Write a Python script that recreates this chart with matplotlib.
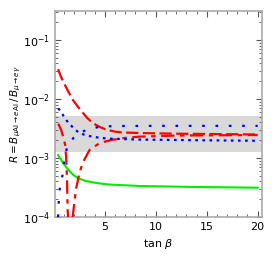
import matplotlib
matplotlib.use("Agg")
import matplotlib.pyplot as plt
from matplotlib.ticker import LogLocator, MultipleLocator, NullFormatter

# --- data ---
tanb_green = [0.4, 0.92, 1.41, 1.9, 2.42, 3.07, 4.05, 5.03, 5.7, 8.44, 14.3, 20.0]
r_green = [1.12e-3, 8.1e-4, 6.3e-4, 5.15e-4, 4.5e-4, 4.1e-4, 3.8e-4, 3.6e-4, 3.53e-4, 3.35e-4, 3.22e-4, 3.14e-4]

tanb_red_dash = [0.4, 0.7, 1.07, 1.46, 1.86, 2.35, 2.84, 3.3, 3.82, 4.5, 5.2, 6.0, 6.77, 8.44, 12.0, 20.0]
r_red_dash = [0.032, 0.0235, 0.0173, 0.0128, 9.6e-3, 7.4e-3, 5.8e-3, 4.7e-3, 3.9e-3, 3.35e-3, 3.0e-3, 2.8e-3, 2.7e-3, 2.65e-3, 2.58e-3, 2.5e-3]

tanb_red_dd = [0.42, 0.7, 0.9, 1.1, 1.2, 1.28, 1.34, 1.42, 1.55, 1.75, 1.85, 2.15, 2.5, 2.85, 3.5, 4.5, 5.7, 7.1, 8.4, 12.0, 20.0]
r_red_dd = [3.8e-3, 3.0e-3, 2.3e-3, 1.66e-3, 1.0e-3, 4.5e-4, 1.3e-4, 8e-5, 1e-6, 8e-5, 1.05e-4, 2.9e-4, 5.6e-4, 8.5e-4, 1.37e-3, 1.8e-3, 2.03e-3, 2.2e-3, 2.3e-3, 2.4e-3, 2.45e-3]

tanb_blue_low = [0.42, 0.77, 1.04, 1.44, 1.93, 2.42, 3.05, 3.73, 4.7, 5.4, 8.4, 14.0, 20.0]
r_blue_low = [6.95e-3, 5.8e-3, 4.8e-3, 3.9e-3, 3.2e-3, 2.7e-3, 2.45e-3, 2.3e-3, 2.18e-3, 2.13e-3, 2.05e-3, 2.0e-3, 1.96e-3]

tanb_blue_up = [0.4, 0.45, 0.51, 0.6, 0.85, 0.95, 1.27, 1.6, 1.93, 2.55, 3.1, 3.73, 4.7, 6.0, 10.0, 20.0]
r_blue_up = [1.0e-4, 1.6e-4, 2.3e-4, 3.5e-4, 5.2e-4, 7.6e-4, 1.5e-3, 1.9e-3, 2.2e-3, 2.65e-3, 2.95e-3, 3.2e-3, 3.4e-3, 3.48e-3, 3.5e-3, 3.5e-3]

band_low, band_high = 1.26e-3, 5.1e-3

fig = plt.figure(figsize=(2.74, 2.74), dpi=100)
ax = fig.add_axes([0.2007, 0.208, 0.7553, 0.752])

ax.axhspan(band_low, band_high, color="#d9d9d9", zorder=0, lw=0)

ax.plot(tanb_green, r_green, color="#00ee00", lw=1.5, zorder=3)
ax.plot(tanb_red_dash, r_red_dash, color="#ff0000", lw=1.6, dashes=(5.5, 2), zorder=3)
ax.plot(tanb_red_dd, r_red_dd, color="#ff0000", lw=1.6, dashes=(6, 2.5, 2, 2.5), zorder=3)
ax.plot(tanb_blue_low, r_blue_low, color="#0000ff", lw=1.6, dashes=(1.2, 2.0), zorder=3)
ax.plot(tanb_blue_up, r_blue_up, color="#0000ff", lw=1.6, dashes=(1.2, 4.8), zorder=3)

ax.set_yscale("log")
ax.set_xlim(0.1, 20.42)
ax.set_ylim(1e-4, 0.31)

ax.xaxis.set_minor_locator(MultipleLocator(1))
ax.set_xticks([5, 10, 15, 20])
ax.yaxis.set_major_locator(LogLocator(base=10, numticks=10))
ax.yaxis.set_minor_locator(LogLocator(base=10, subs=range(2, 10), numticks=20))
ax.yaxis.set_minor_formatter(NullFormatter())

ax.tick_params(which="both", direction="in", top=True, right=True, colors="#555555",
               labelcolor="black", labelsize=8)
ax.tick_params(which="major", length=4, width=0.8)
ax.tick_params(which="minor", length=2, width=0.6)
for s in ax.spines.values():
    s.set_color("#aaaaaa")
    s.set_linewidth(1.2)

ax.set_xlabel(r"tan $\beta$", fontsize=8)
ax.set_ylabel(r"$R = B_{\mu \mathrm{Al}\to e \mathrm{Al}}\, / \, B_{\mu \to e\gamma}$", fontsize=7.5)
ax.yaxis.set_label_coords(-0.155, 0.5)

fig.savefig("out.png", dpi=100)
